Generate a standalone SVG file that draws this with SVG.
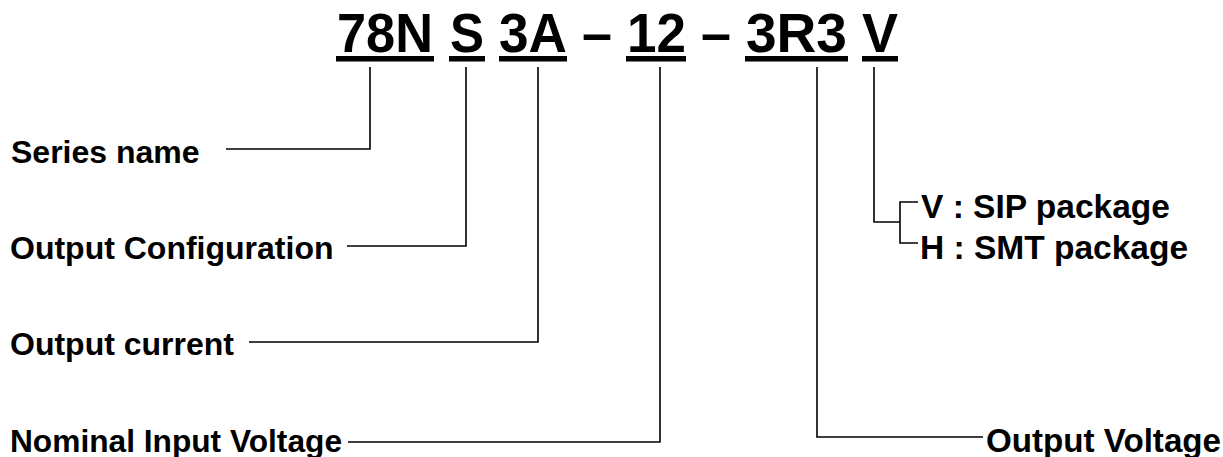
<svg xmlns="http://www.w3.org/2000/svg" width="1223" height="457" viewBox="0 0 1223 457">
<style>
.code{font-family:"Liberation Sans",Arial,sans-serif;font-weight:bold;font-size:55px;fill:#000}
.lbl{font-family:"Liberation Sans",Arial,sans-serif;font-weight:bold;font-size:32px;fill:#000}
.lbl2{font-family:"Liberation Sans",Arial,sans-serif;font-weight:bold;font-size:33.5px;fill:#000}
.ul{fill:#000}
.conn{fill:none;stroke:#000;stroke-width:1.6}
</style>
<rect width="1223" height="457" fill="#fff"/>
<g id="code">
<text class="code" x="337" y="52" textLength="96" lengthAdjust="spacingAndGlyphs">78N</text>
<text class="code" x="450" y="52" textLength="34" lengthAdjust="spacingAndGlyphs">S</text>
<text class="code" x="499" y="52" textLength="68" lengthAdjust="spacingAndGlyphs">3A</text>
<text class="code" x="582" y="52" textLength="30" lengthAdjust="spacingAndGlyphs">–</text>
<text class="code" x="627" y="52" textLength="59" lengthAdjust="spacingAndGlyphs">12</text>
<text class="code" x="701" y="52" textLength="30" lengthAdjust="spacingAndGlyphs">–</text>
<text class="code" x="746" y="52" textLength="101" lengthAdjust="spacingAndGlyphs">3R3</text>
<text class="code" x="862" y="52" textLength="36" lengthAdjust="spacingAndGlyphs">V</text>
<rect class="ul" x="336" y="56" width="98" height="5.5"/>
<rect class="ul" x="449" y="56" width="36" height="5.5"/>
<rect class="ul" x="499" y="56" width="68" height="5.5"/>
<rect class="ul" x="626" y="56" width="60" height="5.5"/>
<rect class="ul" x="745" y="56" width="103" height="5.5"/>
<rect class="ul" x="862" y="56" width="36" height="5.5"/>
</g>
<g id="connectors">
<path class="conn" d="M370,67 V149 H226"/>
<path class="conn" d="M466,67 V246 H347"/>
<path class="conn" d="M538,67 V342 H249"/>
<path class="conn" d="M660,67 V442 H348"/>
<path class="conn" d="M817,67 V437 H983"/>
<path class="conn" d="M874,67 V222 H900"/>
<path class="conn" d="M918,202 H900 V243 H918"/>
</g>
<g id="series-name"><text class="lbl" x="11" y="163">Series name</text></g>
<g id="output-configuration"><text class="lbl" x="10" y="259">Output Configuration</text></g>
<g id="output-current"><text class="lbl" x="10" y="355">Output current</text></g>
<g id="nominal-input-voltage"><text class="lbl" x="10" y="452" textLength="332" lengthAdjust="spacingAndGlyphs">Nominal Input Voltage</text></g>
<g id="output-voltage"><text class="lbl2" x="986" y="452" textLength="235" lengthAdjust="spacingAndGlyphs">Output Voltage</text></g>
<g id="sip"><text class="lbl2" x="921" y="218">V : SIP package</text></g>
<g id="smt"><text class="lbl2" x="920" y="259">H : SMT package</text></g>
</svg>
